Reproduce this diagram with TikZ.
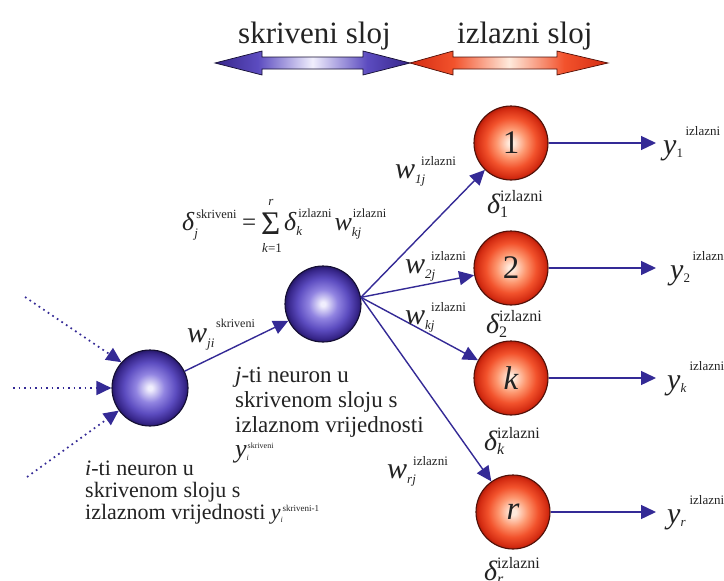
\documentclass[tikz,border=0pt]{standalone}
\usepackage{fontspec}
\setmainfont{Liberation Serif}
\usetikzlibrary{arrows.meta}
\definecolor{ac}{RGB}{52,42,150}
\definecolor{txc}{RGB}{35,35,35}
\definecolor{bc0}{RGB}{240,238,253}
\definecolor{bc1}{RGB}{145,132,225}
\definecolor{bc2}{RGB}{92,76,192}
\definecolor{bc3}{RGB}{55,38,138}
\definecolor{bc4}{RGB}{38,25,105}
\definecolor{bline}{RGB}{20,14,50}
\definecolor{rc0}{RGB}{255,234,220}
\definecolor{rc1}{RGB}{253,150,110}
\definecolor{rc2}{RGB}{242,82,44}
\definecolor{rc3}{RGB}{212,44,18}
\definecolor{rc4}{RGB}{182,30,10}
\definecolor{rline}{RGB}{80,16,8}
\pgfdeclareradialshading{bball}{\pgfpoint{0bp}{0bp}}{color(0bp)=(bc0); color(1.5bp)=(bc0); color(9.5bp)=(bc1); color(17bp)=(bc2); color(23bp)=(bc3); color(25bp)=(bc4); color(50bp)=(bc4)}
\pgfdeclareradialshading{rball}{\pgfpoint{0bp}{0bp}}{color(0bp)=(rc0); color(2bp)=(rc0); color(10bp)=(rc1); color(17bp)=(rc2); color(23bp)=(rc3); color(25bp)=(rc4); color(50bp)=(rc4)}
\pgfdeclarehorizontalshading{bband}{100bp}{color(0bp)=(bc3); color(25bp)=(bc3); color(36bp)=(bc2); color(50bp)=(bc0); color(64bp)=(bc2); color(75bp)=(bc3); color(100bp)=(bc3)}
\pgfdeclarehorizontalshading{rband}{100bp}{color(0bp)=(rc3); color(25bp)=(rc3); color(36bp)=(rc2); color(50bp)=(rc0); color(64bp)=(rc2); color(75bp)=(rc3); color(100bp)=(rc3)}
% #1 base size, #2 base, #3 sub size, #4 sub drop, #5 sub, #6 sup size, #7 sup raise, #8 sup shift, #9 sup
\newcommand{\SSlab}[9]{{\fontsize{#1}{#1}\selectfont\itshape #2}\rlap{\raisebox{-#4}{\fontsize{#3}{#3}\selectfont #5}}\hspace{#8}\raisebox{#7}{\fontsize{#6}{#6}\selectfont #9}}
\newcommand{\wlab}[2]{\SSlab{30}{w}{13}{5pt}{\itshape #1}{13}{13pt}{6pt}{#2}}
\newcommand{\ylab}[1]{\SSlab{30}{y}{13}{3pt}{#1}{13}{19pt}{9pt}{izlazni}}
\newcommand{\dlab}[1]{\SSlab{28}{δ}{16}{4pt}{#1}{16}{12pt}{0pt}{izlazni}}
\tikzset{
  bnode/.style={circle, draw=bline, line width=1.1pt, minimum size=76pt, inner sep=0pt, shading=bball},
  rnode/.style={circle, draw=rline, line width=1.1pt, minimum size=74pt, inner sep=0pt, shading=rball, font=\fontsize{33}{33}\selectfont, text=txc},
  conn/.style={draw=ac, line width=1.4pt, -{Triangle[length=15pt,width=14pt]}},
  dconn/.style={draw=ac, line width=1.7pt, dash pattern=on 1.7pt off 3.8pt, -{Triangle[length=15pt,width=14pt]}},
  lab/.style={text=txc, inner sep=0pt, anchor=base west},
  head/.style={lab, font=\fontsize{31}{31}\selectfont},
  jt/.style={lab, font=\fontsize{23}{23}\selectfont},
  it/.style={lab, font=\fontsize{22}{22}\selectfont},
  band/.style={line width=0.7pt}
}
\begin{document}
\begin{tikzpicture}[x=1pt,y=-1pt]
\path[use as bounding box] (0,0) rectangle (724,581);
\clip (0,0) rectangle (724,581);
\fill[white] (0,0) rectangle (724,581);

% headings
\node[head] (hs) at (238,43) {skriveni sloj};
\node[head] (hi) at (457,43) {izlazni sloj};
\shadedraw[band, draw=bline, shading=bband]
  (215,63) -- (262,51) -- (262,57) -- (363,57) -- (363,51) -- (410,63)
  -- (363,75) -- (363,69) -- (262,69) -- (262,75) -- cycle;
\shadedraw[band, draw=rline, shading=rband]
  (410,63) -- (453,51) -- (453,57) -- (557,57) -- (557,51) -- (608,63)
  -- (557,75) -- (557,69) -- (453,69) -- (453,75) -- cycle;

% neurons
\node[bnode] (ni) at (150,388) {};
\node[bnode] (nj) at (323,304) {};
\node[rnode] (o1) at (511,143) {1};
\node[rnode] (o2) at (511,268) {2};
\node[rnode] (ok) at (511,378) {\itshape k};
\node[rnode] (or) at (513,512) {\itshape r};

% inputs
\coordinate (d1) at (25,297);
\coordinate (d2) at (13,388);
\coordinate (d3) at (27,477);
\draw[dconn] (d1) -- (ni.138);
\draw[dconn] (d2) -- (ni);
\draw[dconn] (d3) -- (ni);

% hidden to hidden
\draw[conn] (ni) -- (nj);
% hidden to output
\draw[conn] (nj.10) -- (o1);
\draw[conn] (nj.10) -- (o2);
\draw[conn] (nj.10) -- (ok);
\draw[conn] (nj.10) -- (or);

% outputs
\coordinate (e1) at (656,143);
\coordinate (e2) at (656,268);
\coordinate (ek) at (656,378);
\coordinate (er) at (656,512);
\draw[conn] (o1) -- (e1);
\draw[conn] (o2) -- (e2);
\draw[conn] (ok) -- (ek);
\draw[conn] (or) -- (er);

\node[lab] (y1) at (663,154) {\ylab{1}};
\node[lab] (y2) at (670,279) {\ylab{2}};
\node[lab] (yk) at (667,389) {\ylab{\itshape k}};
\node[lab] (yr) at (667,523) {\ylab{\itshape r}};

% weight labels
\node[lab] (wji) at (187,342) {\SSlab{30}{w}{13}{5pt}{\itshape ji}{12}{15pt}{9pt}{skriveni}};
\node[lab] (w1) at (395,178) {\wlab{1j}{izlazni}};
\node[lab] (w2) at (405,273) {\wlab{2j}{izlazni}};
\node[lab] (wk) at (405,324) {\wlab{kj}{izlazni}};
\node[lab] (wr) at (387,478) {\wlab{rj}{izlazni}};

% delta labels
\node[lab] (d1l) at (487,213) {\dlab{1}};
\node[lab] (d2l) at (486,333) {\dlab{2}};
\node[lab] (dkl) at (484,450) {\dlab{\itshape k}};
\node[lab] (drl) at (484,580) {\dlab{\itshape r}};

% formula
\node[lab] (fa) at (182,230) {\SSlab{26}{δ}{13}{7pt}{\itshape j}{12.5}{12pt}{2pt}{skriveni}};
\node[lab, font=\fontsize{25}{25}\selectfont] (feq) at (242,230) {=};
\node[lab, font=\fontsize{33}{33}\selectfont] (fsum) at (261,234) {Σ};
\node[text=txc, inner sep=0pt, font=\fontsize{13}{13}\selectfont\itshape] (fr) at (271,202) {r};
\node[text=txc, inner sep=0pt, font=\fontsize{13}{13}\selectfont] (fk) at (272,248) {\textit{k}=1};
\node[lab] (fb) at (284,230) {\SSlab{26}{δ}{13}{5pt}{\itshape k}{12.5}{13pt}{2pt}{izlazni}\hspace{3pt}\SSlab{26}{w}{13}{6pt}{\itshape kj}{12.5}{13pt}{1pt}{izlazni}};

% descriptions
\node[jt] (j1) at (235,382) {\textit{j}-ti neuron u};
\node[jt] (j2) at (235,407) {skrivenom sloju s};
\node[jt] (j3) at (235,432) {izlaznom vrijednosti};
\node[lab] (j4) at (235,457) {\SSlab{26}{y}{8}{3pt}{\itshape i}{8}{9pt}{1pt}{skriveni}};
\node[it] (i1) at (85,475) {\textit{i}-ti neuron u};
\node[it] (i2) at (85,497) {skrivenom sloju s};
\node[it] (i3) at (85,519) {izlaznom vrijednosti \SSlab{22}{y}{8}{3pt}{\itshape i}{9}{8pt}{2pt}{skriveni-1}};
\end{tikzpicture}
\end{document}
